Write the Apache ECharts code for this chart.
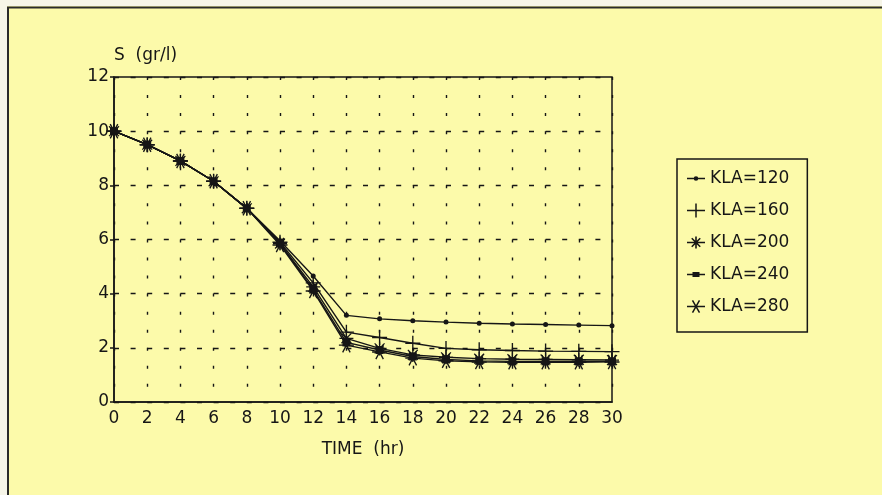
<!DOCTYPE html>
<html>
<head>
<meta charset="utf-8">
<script src="https://cdn.jsdelivr.net/npm/echarts@6/dist/echarts.min.js"></script>
<style>
html,body{margin:0;padding:0;background:#FCFAAA;}
#c{width:882px;height:495px;}
</style>
</head>
<body>
<div id="c"></div>
<script>
// ---- data ----
var timeHr = [0, 2, 4, 6, 8, 10, 12, 14, 16, 18, 20, 22, 24, 26, 28, 30];
var seriesNames = ['KLA=120', 'KLA=160', 'KLA=200', 'KLA=240', 'KLA=280'];
var kla120 = [10, 9.5, 8.9, 8.15, 7.15, 5.95, 4.65, 3.2, 3.07, 3.0, 2.95, 2.91, 2.88, 2.86, 2.84, 2.82];
var kla160 = [10, 9.5, 8.9, 8.15, 7.15, 5.9, 4.4, 2.58, 2.38, 2.17, 1.98, 1.93, 1.9, 1.88, 1.87, 1.86];
var kla200 = [10, 9.5, 8.9, 8.15, 7.15, 5.85, 4.25, 2.35, 1.98, 1.74, 1.65, 1.6, 1.58, 1.57, 1.56, 1.55];
var kla240 = [10, 9.5, 8.9, 8.15, 7.15, 5.85, 4.15, 2.2, 1.92, 1.68, 1.57, 1.52, 1.5, 1.5, 1.5, 1.5];
var kla280 = [10, 9.5, 8.9, 8.15, 7.15, 5.8, 4.1, 2.1, 1.85, 1.62, 1.52, 1.48, 1.47, 1.47, 1.47, 1.48];
var allSeries = [kla120, kla160, kla200, kla240, kla280];

// ---- symbols ----
function bar(a, half, w) { // thin bar along angle a, given half-length and half-width
  var c = Math.cos(a) * half, s = Math.sin(a) * half;
  var nx = -Math.sin(a) * w, ny = Math.cos(a) * w;
  return 'M' + (-c - nx) + ',' + (-s - ny) + 'L' + (c - nx) + ',' + (s - ny) +
         'L' + (c + nx) + ',' + (s + ny) + 'L' + (-c + nx) + ',' + (-s + ny) + 'Z';
}
var P = Math.PI;
var symPlus = 'path://' + bar(0, 10, 0.9) + bar(P / 2, 10, 0.9);
var symStar8 = 'path://' + bar(0, 10, 0.9) + bar(P / 2, 10, 0.9) + bar(P / 4, 10, 0.9) + bar(-P / 4, 10, 0.9) + 'M-3,-3H3V3H-3Z';
var symStar6 = 'path://' + bar(0, 10, 0.9) + bar(P / 3, 10, 0.9) + bar(-P / 3, 10, 0.9) + 'M-2.5,-2.5H2.5V2.5H-2.5Z';
var symbols = ['circle', symPlus, symStar8, 'rect', symStar6];
var sizes = [5, 15, 14, 8, 15];

// legend icons: an 18x16 box (corner points fix the box), a line, and the mark
var box = 'M-9,-8L-9,-8ZM9,8L9,8Z';
var lineBar = 'M-9,-0.7H9V0.7H-9Z';
var legendIcons = [
  'path://' + box + lineBar + 'M-2.3,0A2.3,2.3 0 1,1 2.3,0A2.3,2.3 0 1,1 -2.3,0Z',
  'path://' + box + lineBar + bar(P / 2, 7, 0.75),
  'path://' + box + lineBar + bar(P / 2, 6, 0.8) + bar(P / 4, 6, 0.8) + bar(-P / 4, 6, 0.8) + 'M-2,-2H2V2H-2Z',
  'path://' + box + lineBar + 'M-3.5,-2.6H3.5V2.6H-3.5Z',
  'path://' + box + lineBar + bar(P / 3, 7, 0.75) + bar(-P / 3, 7, 0.75)
];

var font = 'DejaVu Sans';
var ink = '#161616';

var series = seriesNames.map(function (n, i) {
  return {
    name: n,
    type: 'line',
    data: timeHr.map(function (t, j) { return [t, allSeries[i][j]]; }),
    symbol: symbols[i],
    symbolSize: sizes[i],
    showAllSymbol: true,
    lineStyle: { color: ink, width: 1.4 },
    itemStyle: { color: ink },
    animation: false
  };
});

var chart = echarts.init(document.getElementById('c'), null, { renderer: 'canvas' });
chart.setOption({
  backgroundColor: '#FCFAAA',
  animation: false,
  textStyle: { fontFamily: font },
  grid: {
    left: 114, right: 270, top: 77, bottom: 93,
    show: true, borderColor: ink, borderWidth: 1.5, backgroundColor: 'transparent'
  },
  legend: {
    orient: 'vertical',
    left: 677, top: 159,
    padding: [11, 18, 17, 10],
    itemGap: 15,
    itemWidth: 18, itemHeight: 16,
    borderColor: ink, borderWidth: 1.5,
    textStyle: { fontFamily: font, fontSize: 17, color: ink },
    data: seriesNames.map(function (n, i) { return { name: n, icon: legendIcons[i] }; })
  },
  xAxis: {
    type: 'value', min: 0, max: 30, interval: 2,
    name: 'TIME  (hr)', nameLocation: 'middle', nameGap: 39,
    nameTextStyle: { fontFamily: font, fontSize: 17, color: ink },
    axisLine: { lineStyle: { color: ink, width: 1.5 } },
    axisTick: { show: false },
    axisLabel: { fontFamily: font, fontSize: 17, color: ink, margin: 8 },
    splitLine: { show: true, lineStyle: { color: ink, width: 1.4, type: [3, 15.05] } }
  },
  yAxis: {
    type: 'value', min: 0, max: 12, interval: 2,
    name: 'S  (gr/l)', nameLocation: 'end', nameGap: 13,
    nameTextStyle: { fontFamily: font, fontSize: 17, color: ink, align: 'left' },
    axisLine: { show: true, lineStyle: { color: ink, width: 1.5 } },
    axisTick: { show: true, length: 4, lineStyle: { color: ink, width: 1.5 } },
    axisLabel: { fontFamily: font, fontSize: 17, color: ink, margin: 5 },
    splitLine: { show: true, lineStyle: { color: ink, width: 1.4, type: [5, 11.6] } }
  },
  graphic: [
    { type: 'rect', left: 0, top: 0, shape: { width: 882, height: 6 }, style: { fill: '#F6F5E8' }, silent: true },
    { type: 'rect', left: 0, top: 0, shape: { width: 7, height: 495 }, style: { fill: '#F6F5E8' }, silent: true },
    { type: 'line', shape: { x1: 7, y1: 7.5, x2: 882, y2: 7.5 }, style: { stroke: '#2a2a2a', lineWidth: 2 }, silent: true },
    { type: 'line', shape: { x1: 8, y1: 7, x2: 8, y2: 495 }, style: { stroke: '#2a2a2a', lineWidth: 2 }, silent: true }
  ],
  series: series
});
</script>
</body>
</html>
